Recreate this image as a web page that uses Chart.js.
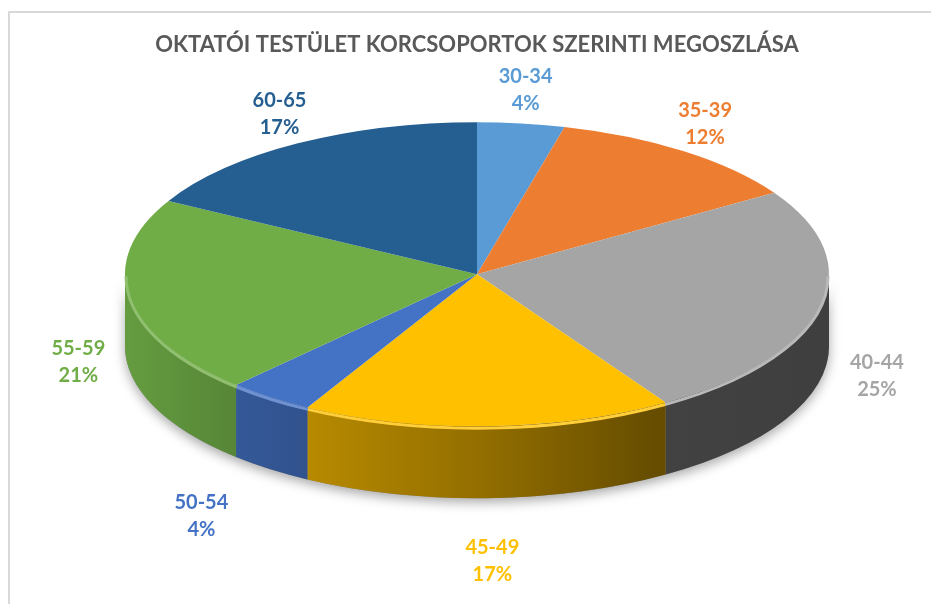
<!DOCTYPE html>
<html>
<head>
<meta charset="utf-8">
<script src="https://cdn.jsdelivr.net/npm/chart.js@4.4.1/dist/chart.umd.min.js"></script>
<style>
  html, body { margin: 0; padding: 0; background: #fff; overflow: hidden; }
  #wrap { position: relative; width: 931px; height: 604px; }
  #frame { position: absolute; left: 8px; top: 11px; width: 1000px; height: 700px; border: 2px solid #d9d9d9; }
  canvas { position: absolute; left: 0; top: 0; }
</style>
</head>
<body>
<div id="wrap">
  <div id="frame"></div>
  <canvas id="pieChart" width="931" height="604"></canvas>
</div>
<script>
// age groups and their share of the teaching staff (%)
var ageGroups = ['30-34', '35-39', '40-44', '45-49', '50-54', '55-59', '60-65'];
var shares = [4, 12, 25, 17, 4, 21, 17];
var sliceColors = ['#5B9BD5', '#ED7D31', '#A5A5A5', '#FFC000', '#4472C4', '#70AD47', '#255E91'];
var chartTitle = 'OKTATÓI TESTÜLET KORCSOPORTOK SZERINTI MEGOSZLÁSA';

// look of the tilted pie
var PIE_RX = 352;
var PIE_RY = 152;
var DEPTH = 72;

function shade(hex, f) {
    var n = parseInt(hex.slice(1), 16);
    var r = Math.round(((n >> 16) & 255) * f);
    var g = Math.round(((n >> 8) & 255) * f);
    var b = Math.round((n & 255) * f);
    return 'rgb(' + r + ',' + g + ',' + b + ')';
}
function tint(hex, t) {
    var n = parseInt(hex.slice(1), 16);
    var r = (n >> 16) & 255, g = (n >> 8) & 255, b = n & 255;
    r = Math.round(r + (255 - r) * t);
    g = Math.round(g + (255 - g) * t);
    b = Math.round(b + (255 - b) * t);
    return 'rgb(' + r + ',' + g + ',' + b + ')';
}

// draws the side wall, squashes the pie into an ellipse and puts the labels outside
var tiltPlugin = {
    id: 'tilt3d',
    beforeDatasetsDraw: function(chart) {
        var ctx = chart.ctx;
        var arcs = chart.getDatasetMeta(0).data;
        if (!arcs.length) return;
        var p0 = arcs[0].getProps(['x', 'y', 'outerRadius'], true);
        var cx = p0.x, cy = p0.y;

        // soft shadow under the front
        ctx.save();
        ctx.shadowColor = 'rgba(0,0,0,0.35)';
        ctx.shadowBlur = 12;
        ctx.shadowOffsetY = 4;
        ctx.fillStyle = '#888';
        ctx.beginPath();
        ctx.ellipse(cx, cy, PIE_RX, PIE_RY, 0, 0, Math.PI);
        ctx.ellipse(cx, cy + DEPTH, PIE_RX, PIE_RY, 0, Math.PI, 0, true);
        ctx.closePath();
        ctx.fill();
        ctx.restore();

        arcs.forEach(function(arc, i) {
            var p = arc.getProps(['startAngle', 'endAngle'], true);
            var a0 = Math.max(p.startAngle, 0);
            var a1 = Math.min(p.endAngle, Math.PI);
            if (a0 >= a1) return;
            var col = sliceColors[i];
            var grad = ctx.createLinearGradient(cx - PIE_RX, 0, cx + PIE_RX, 0);
            grad.addColorStop(0, shade(col, 0.9));
            grad.addColorStop(0.15, shade(col, 0.78));
            grad.addColorStop(0.5, shade(col, 0.58));
            grad.addColorStop(0.75, shade(col, 0.4));
            grad.addColorStop(1, shade(col, 0.38));
            ctx.save();
            ctx.fillStyle = grad;
            ctx.beginPath();
            ctx.ellipse(cx, cy, PIE_RX, PIE_RY, 0, a0, a1);
            ctx.ellipse(cx, cy + DEPTH, PIE_RX, PIE_RY, 0, a1, a0, true);
            ctx.closePath();
            ctx.fill();
            ctx.restore();
        });

        ctx.save();
        ctx.translate(cx, cy);
        ctx.scale(PIE_RX / p0.outerRadius, PIE_RY / p0.outerRadius);
        ctx.translate(-cx, -cy);
    },
    afterDatasetsDraw: function(chart) {
        var ctx = chart.ctx;
        ctx.restore();
        var arcs = chart.getDatasetMeta(0).data;
        if (!arcs.length) return;

        // bevel highlight on the front rim
        arcs.forEach(function(arc, i) {
            var p = arc.getProps(['x', 'y', 'startAngle', 'endAngle'], true);
            var a0 = Math.max(p.startAngle, 0);
            var a1 = Math.min(p.endAngle, Math.PI);
            if (a0 >= a1) return;
            ctx.save();
            ctx.strokeStyle = tint(sliceColors[i], 0.22);
            ctx.lineWidth = 3;
            ctx.beginPath();
            ctx.ellipse(p.x, p.y + 2, PIE_RX - 1, PIE_RY, 0, a0, a1);
            ctx.stroke();
            ctx.restore();
        });

        // labels: group name and percentage
        ctx.save();
        ctx.font = 'bold 20px Lato';
        ctx.textAlign = 'center';
        ctx.textBaseline = 'middle';
        arcs.forEach(function(arc, i) {
            var p = arc.getProps(['x', 'y', 'startAngle', 'endAngle'], true);
            var mid = (p.startAngle + p.endAngle) / 2;
            var ux = Math.cos(mid), uy = Math.sin(mid);
            var lx = p.x + (PIE_RX + 36 + 100 * Math.max(uy, 0)) * ux;
            var ly = p.y + (PIE_RY + 34) * uy;
            if (uy > 0) ly += DEPTH * (0.7 + 0.7 * uy);
            ctx.fillStyle = sliceColors[i];
            ctx.fillText(ageGroups[i], lx, ly - 13.5);
            ctx.fillText(shares[i] + '%', lx, ly + 13.5);
        });
        ctx.restore();
    }
};

var ctx = document.getElementById('pieChart').getContext('2d');
var pieChart = new Chart(ctx, {
    type: 'pie',
    data: {
        labels: ageGroups,
        datasets: [{
            data: shares,
            backgroundColor: sliceColors,
            borderWidth: 0,
            clip: false
        }]
    },
    options: {
        responsive: false,
        animation: false,
        events: [],
        layout: {
            padding: { left: 23, right: 0, top: 0, bottom: 114 }
        },
        plugins: {
            legend: { display: false },
            tooltip: { enabled: false },
            title: {
                display: true,
                text: chartTitle,
                color: '#595959',
                font: { family: 'Lato', size: 22, weight: 'bold' },
                padding: { top: 32, bottom: 0 }
            }
        }
    },
    plugins: [tiltPlugin]
});
</script>
</body>
</html>
